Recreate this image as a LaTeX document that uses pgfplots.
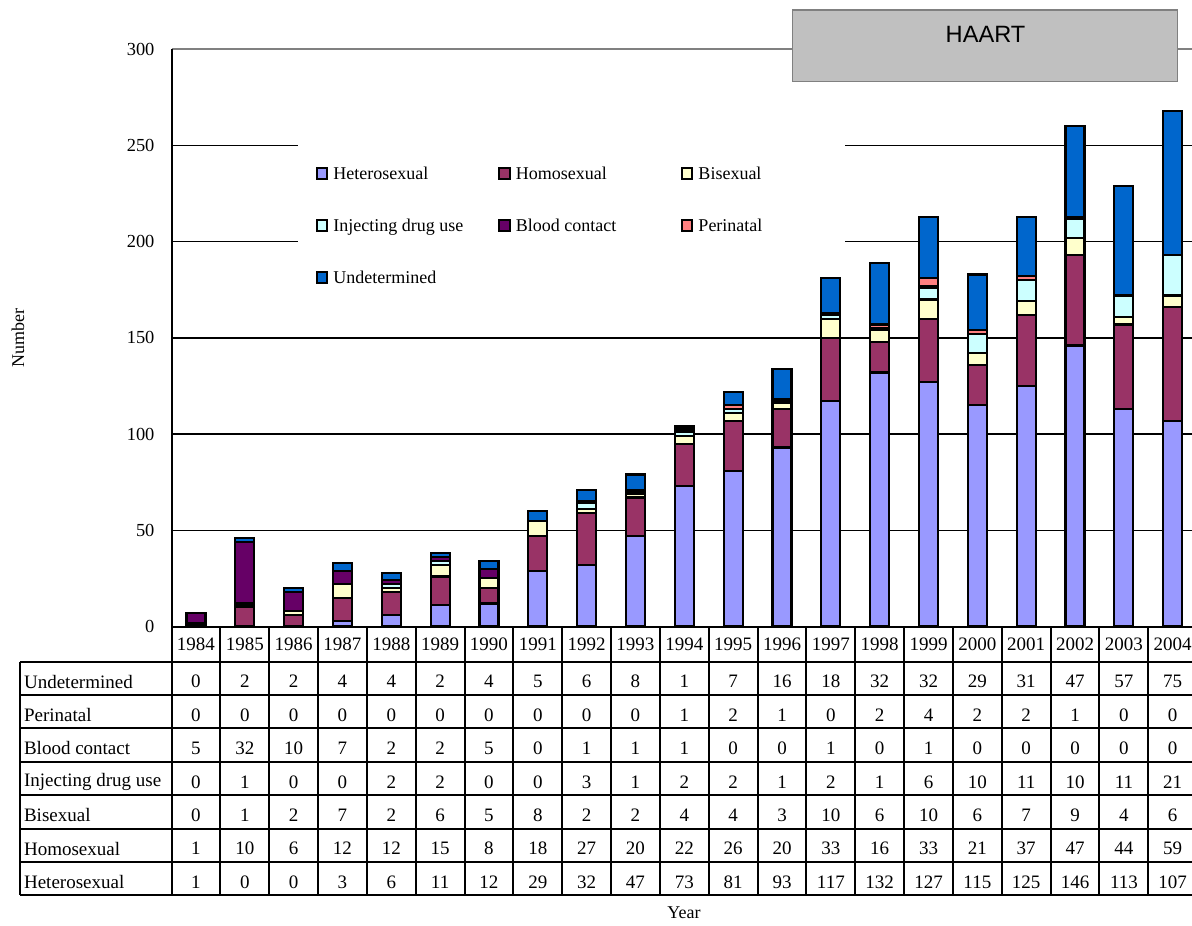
\documentclass[border=0pt]{standalone}
\usepackage{fontspec}
\setmainfont{Liberation Serif}
\newfontfamily\arial{Liberation Sans}
\usepackage{pgfplots}
\usepackage{pgfplotstable}
\pgfplotsset{compat=1.18}

\definecolor{cHet}{HTML}{9999FF}
\definecolor{cHom}{HTML}{993366}
\definecolor{cBi}{HTML}{FFFFCC}
\definecolor{cIdu}{HTML}{CCFFFF}
\definecolor{cBlood}{HTML}{660066}
\definecolor{cPeri}{HTML}{FF8080}
\definecolor{cUnd}{HTML}{0066CC}
\definecolor{frame}{HTML}{808080}
\definecolor{boxgray}{HTML}{C0C0C0}

% cases per year and route of transmission
\pgfplotstableread{
idx year het hom bi idu blood peri und
0  1984 1   1  0  0  5  0 0
1  1985 0   10 1  1  32 0 2
2  1986 0   6  2  0  10 0 2
3  1987 3   12 7  0  7  0 4
4  1988 6   12 2  2  2  0 4
5  1989 11  15 6  2  2  0 2
6  1990 12  8  5  0  5  0 4
7  1991 29  18 8  0  0  0 5
8  1992 32  27 2  3  1  0 6
9  1993 47  20 2  1  1  0 8
10 1994 73  22 4  2  1  1 1
11 1995 81  26 4  2  0  2 7
12 1996 93  20 3  1  0  1 16
13 1997 117 33 10 2  1  0 18
14 1998 132 16 6  1  0  2 32
15 1999 127 33 10 6  1  4 32
16 2000 115 21 6  10 0  2 29
17 2001 125 37 7  11 0  2 31
18 2002 146 47 9  10 0  1 47
19 2003 113 44 4  11 0  0 57
20 2004 107 59 6  21 0  0 75
}\data

\newcommand{\legtext}[1]{\makebox[82.5pt][l]{\vphantom{Ag}#1}}

\begin{document}
\begin{tikzpicture}
% grid lines in reference pixel units, drawn first so bars sit on top;
% the two upper ones stop where the legend sits
\begin{scope}[x=0.5pt, y=-0.5pt, shift={(-171.5,-626.5)}, line width=0.75pt]
  \foreach \v in {50,100,150}
    \draw (171.5,626.5-1.924*\v) -- (1200,626.5-1.924*\v);
  \foreach \v in {200,250} {
    \draw (171.5,626.5-1.924*\v) -- (298,626.5-1.924*\v);
    \draw (845,626.5-1.924*\v) -- (1200,626.5-1.924*\v);
  }
\end{scope}

\begin{axis}[
    at={(0,0)}, anchor=south west,
    scale only axis,
    width=512.8pt, height=288.6pt,
    ybar stacked, bar width=9.5pt,
    xmin=-0.5, xmax=20.5, ymin=0, ymax=300,
    enlargelimits=false,
    xtick=\empty,
    ytick={0,50,...,300},
    axis line style={draw=none},
    major tick length=0pt,
    /pgf/number format/assume math mode=true,
    yticklabel style={font=\fontsize{9.2}{11}\selectfont, xshift=-5pt},
    every axis plot/.append style={draw=black, line width=1.1pt},
    legend image code/.code={\draw[#1, line width=1pt] (0.5pt,-2pt) rectangle (5.8pt,3.3pt);},
    legend columns=3,
    legend cell align=left,
    legend style={at={(0.1406,0.7956)}, anchor=north west,
        draw=none, fill=none, inner sep=0pt, outer sep=0pt,
        font=\fontsize{9}{11}\selectfont,
        nodes={inner sep=0pt},
        row sep=18.2pt,
        /tikz/every odd column/.append style={column sep=2.5pt}},
]
\addplot[fill=cHet]   table[x=idx, y=het]   {\data}; \addlegendentry{\legtext{Heterosexual}}
\addplot[fill=cHom]   table[x=idx, y=hom]   {\data}; \addlegendentry{\legtext{Homosexual}}
\addplot[fill=cBi]    table[x=idx, y=bi]    {\data}; \addlegendentry{\legtext{Bisexual}}
\addplot[fill=cIdu]   table[x=idx, y=idu]   {\data}; \addlegendentry{\legtext{Injecting drug use}}
\addplot[fill=cBlood] table[x=idx, y=blood] {\data}; \addlegendentry{\legtext{Blood contact}}
\addplot[fill=cPeri]  table[x=idx, y=peri]  {\data}; \addlegendentry{\legtext{Perinatal}}
\addplot[fill=cUnd]   table[x=idx, y=und]   {\data}; \addlegendentry{\legtext{Undetermined}}
\end{axis}

% everything below in reference pixel units
\begin{scope}[x=0.5pt, y=-0.5pt, shift={(-171.5,-626.5)}]
  % top border and left axis
  \draw[frame, line width=0.8pt] (171.5,49.3) -- (1200,49.3);
  \draw[black, line width=1pt] (171.5,49.3) -- (171.5,895.3);

  % HAART box
  \draw[frame, fill=boxgray, line width=0.7pt] (792.7,10) rectangle (1177.3,81.7);
  \node[font=\arial\fontsize{11.8}{14}\selectfont] at (985.5,34.2) {HAART};

  % data table
  \begin{scope}[line width=1pt]
    \draw (171.5,626.5) -- (1200,626.5);
    \foreach \k in {0,...,7} \draw (20,661.7+33.37*\k) -- (1200,661.7+33.37*\k);
    \draw (20,661.7) -- (20,895.3);
    \foreach \k in {1,...,21} \draw (171.5+48.84*\k,626.5) -- (171.5+48.84*\k,895.3);
  \end{scope}
  \begin{scope}[font=\fontsize{9.5}{11}\selectfont]
    \foreach \i in {0,...,20} {
      \pgfplotstablegetelem{\i}{year}\of\data
      \node at (171.5+48.84*\i+24.42,644.1) {\pgfplotsretval};
    }
    \foreach \col/\lab [count=\r from 0] in {und/Undetermined, peri/Perinatal, blood/Blood contact, idu/Injecting drug use, bi/Bisexual, hom/Homosexual, het/Heterosexual} {
      \node[anchor=west] at (17,661.7+33.37*\r+20) {\lab};
      \foreach \i in {0,...,20} {
        \pgfplotstablegetelem{\i}{\col}\of\data
        \node at (171.5+48.84*\i+24.42,661.7+33.37*\r+20) {\pgfplotsretval};
      }
    }
  \end{scope}

  % axis titles
  \node[rotate=90, font=\fontsize{9}{11}\selectfont] at (18,338) {Number};
  \node[font=\fontsize{9}{11}\selectfont] at (684,913) {Year};

  \pgfresetboundingbox
  \path[use as bounding box] (0,0) rectangle (1192,925);
\end{scope}
\end{tikzpicture}
\end{document}
